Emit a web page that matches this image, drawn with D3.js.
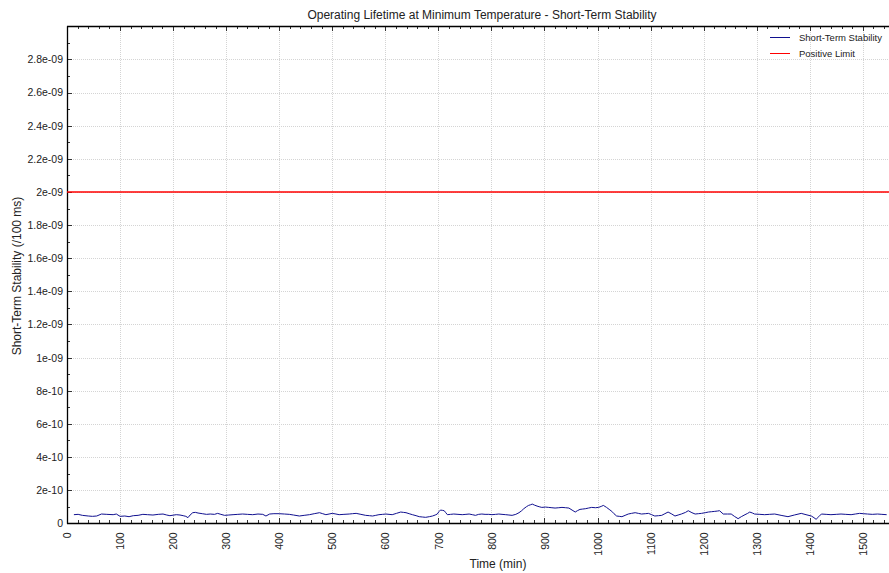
<!DOCTYPE html>
<html>
<head>
<meta charset="utf-8">
<script src="https://cdn.jsdelivr.net/npm/d3@7"></script>
<style>
  html, body { margin: 0; padding: 0; background: #fff; }
  svg { display: block; font-family: "Liberation Sans", Arial, sans-serif; }
</style>
</head>
<body>
<svg id="chart" width="889" height="573"></svg>
<script>
// ---------------- data ----------------
const chartTitle = "Operating Lifetime at Minimum Temperature - Short-Term Stability";
const xAxisTitle = "Time (min)";
const yAxisTitle = "Short-Term Stability (/100 ms)";
const seriesNames = ["Short-Term Stability", "Positive Limit"];

const xTicks = [0,100,200,300,400,500,600,700,800,900,1000,1100,1200,1300,1400,1500];
const yTicks = [0,2e-10,4e-10,6e-10,8e-10,1e-9,1.2e-9,1.4e-9,1.6e-9,1.8e-9,2e-9,2.2e-9,2.4e-9,2.6e-9,2.8e-9];
const yTickLabels = ["0","2e-10","4e-10","6e-10","8e-10","1e-09","1.2e-09","1.4e-09","1.6e-09","1.8e-09","2e-09","2.2e-09","2.4e-09","2.6e-09","2.8e-09"];

const timeMin = [13,21,29,40,48,56,65,75,87,93,100,109,117,125,134,143,152,162,172,181,188,194,206,213,219,224,228,232,237,242,247,255,263,270,278,284,290,297,305,313,322,331,340,350,360,369,375,382,390,400,410,419,427,438,447,457,466,476,482,488,494,500,507,513,522,532,538,545,554,563,570,576,582,588,595,601,607,613,621,629,634,639,645,651,658,664,670,676,683,689,694,698,701,704,708,711,714,717,723,729,737,745,752,758,764,770,776,782,788,795,801,808,814,820,827,833,839,846,852,857,861,866,870,874,877,881,886,890,895,902,908,914,920,927,933,940,946,952,958,962,967,972,977,983,989,996,1002,1007,1011,1014,1017,1022,1027,1031,1036,1041,1046,1052,1058,1064,1071,1077,1083,1090,1096,1102,1108,1115,1121,1127,1133,1140,1146,1152,1158,1166,1171,1178,1184,1190,1196,1203,1209,1215,1221,1226,1230,1237,1245,1252,1258,1265,1271,1278,1283,1287,1292,1296,1306,1315,1324,1334,1346,1359,1371,1384,1393,1403,1408,1412,1417,1422,1431,1440,1450,1459,1468,1478,1486,1494,1501,1509,1518,1528,1536,1545];
// short-term stability, in units of 1e-11
const stabilityE11 = [5.2,5.4,4.8,4.4,4.2,4.4,5.6,5.4,5.2,5.6,4.2,4.4,4.0,4.6,4.8,5.4,5.2,5.0,5.4,5.6,5.0,4.6,5.2,5.0,4.6,4.2,3.4,5.0,6.4,6.6,6.2,5.8,5.4,5.6,5.4,6.0,5.4,4.8,5.0,5.2,5.4,5.6,5.4,5.2,5.6,5.4,4.4,5.6,5.8,5.8,5.6,5.4,5.0,4.4,4.8,5.2,5.8,6.4,5.8,5.2,5.6,6.0,5.6,5.2,5.4,5.6,5.8,6.0,5.4,4.8,4.6,4.4,4.8,5.2,5.4,5.6,5.4,5.2,6.0,6.8,6.6,6.4,5.8,5.2,4.6,4.0,3.8,3.6,4.0,4.4,5.0,5.6,7.0,8.0,7.8,7.6,6.4,5.2,5.4,5.6,5.4,5.2,5.4,5.6,5.2,4.8,5.4,5.6,5.4,5.4,5.2,5.4,5.6,5.4,5.2,5.0,4.8,5.4,6.4,7.6,8.8,10.0,10.8,11.2,11.6,11.0,10.4,10.0,9.6,9.8,9.6,9.4,9.2,9.4,9.6,9.4,9.2,8.0,6.8,7.6,8.4,8.6,8.8,9.2,9.6,9.4,9.6,10.2,10.8,10.2,9.6,8.4,7.2,5.8,4.4,4.2,4.0,4.8,5.6,6.0,6.4,6.0,5.6,5.8,6.0,5.2,4.4,4.6,4.8,5.8,6.8,5.6,4.4,5.0,5.6,6.6,7.6,6.4,5.6,5.8,6.0,6.4,6.8,7.0,7.2,7.4,7.6,5.6,5.6,5.6,4.2,2.8,4.0,5.2,6.0,6.8,6.2,5.6,5.4,5.2,5.4,5.6,4.8,4.0,5.0,6.0,5.2,4.4,3.4,2.4,4.0,5.6,5.4,5.2,5.4,5.6,5.4,5.2,5.6,6.0,5.8,5.6,5.4,5.6,5.4,5.2];
const positiveLimit = 2e-9;
const xDomain = [0, 1550];
const yDomain = [0, 3e-9];

// ---------------- layout ----------------
const svg = d3.select("#chart");
const plotLeft = 67, plotRight = 889.3, plotTop = 26.3, plotBottom = 523.3;

const x = d3.scaleLinear().domain(xDomain).range([plotLeft, plotRight]);
const y = d3.scaleLinear().domain(yDomain).range([plotBottom, plotTop]);

const series = timeMin.map((t, i) => ({ t, v: stabilityE11[i] * 1e-11 }));

// grid
const grid = svg.append("g").attr("stroke", "#d4d4d4").attr("stroke-width", 1)
  .attr("stroke-dasharray", "1,1").attr("shape-rendering", "crispEdges");
grid.selectAll("line.v").data(xTicks.filter(d => d > 0)).join("line")
  .attr("x1", d => Math.round(x(d)) + 0.5).attr("x2", d => Math.round(x(d)) + 0.5)
  .attr("y1", plotTop).attr("y2", plotBottom);
grid.selectAll("line.h").data(yTicks.filter(d => d > 0)).join("line")
  .attr("x1", plotLeft).attr("x2", plotRight)
  .attr("y1", d => Math.round(y(d)) + 0.5).attr("y2", d => Math.round(y(d)) + 0.5);

// axes: ticks point inward
const minorX = d3.range(0, 1551, 20);
const minorY = d3.range(0, 30).map(i => i * 1e-10);

const yAxis = d3.axisLeft(y).tickValues(yTicks).tickSize(0).tickPadding(4)
  .tickFormat((d, i) => yTickLabels[i]);
const gy = svg.append("g").attr("transform", `translate(${plotLeft},0)`).call(yAxis);
gy.select(".domain").remove();
gy.selectAll("text").attr("font-size", "10.5px").attr("fill", "#222")
  .attr("font-family", "Liberation Sans, Arial, sans-serif");

const xAxis = d3.axisBottom(x).tickValues(xTicks).tickSize(0).tickFormat(d3.format("d"));
const gx = svg.append("g").attr("transform", `translate(0,${plotBottom})`).call(xAxis);
gx.select(".domain").remove();
gx.selectAll("text").attr("font-size", "10.5px").attr("fill", "#222")
  .attr("font-family", "Liberation Sans, Arial, sans-serif")
  .attr("transform", "rotate(-90)")
  .attr("text-anchor", "end").attr("x", -9).attr("y", 0).attr("dy", "0.35em");

// tick marks (inward)
const tk = svg.append("g").attr("stroke", "#333").attr("stroke-width", 1).attr("shape-rendering", "crispEdges");
tk.selectAll("line.ly").data(minorY).join("line")
  .attr("x1", plotLeft).attr("x2", (d, i) => plotLeft + (i % 2 === 0 ? 5 : 3))
  .attr("y1", d => Math.round(y(d)) + 0.5).attr("y2", d => Math.round(y(d)) + 0.5);
tk.selectAll("line.bx").data(minorX).join("line")
  .attr("x1", d => Math.round(x(d)) + 0.5).attr("x2", d => Math.round(x(d)) + 0.5)
  .attr("y1", plotBottom).attr("y2", d => plotBottom - (d % 100 === 0 ? 5 : 3));
tk.selectAll("line.tx").data(minorX).join("line")
  .attr("x1", d => Math.round(x(d)) + 0.5).attr("x2", d => Math.round(x(d)) + 0.5)
  .attr("y1", plotTop).attr("y2", d => plotTop + (d % 100 === 0 ? 5 : 3));

// frame lines
svg.append("line").attr("x1", plotLeft + 0.5).attr("x2", plotLeft + 0.5).attr("y1", plotTop).attr("y2", plotBottom + 0.5)
  .attr("stroke", "#000").attr("stroke-width", 1.3);
svg.append("line").attr("x1", plotLeft).attr("x2", plotRight).attr("y1", Math.round(plotTop) + 0.5).attr("y2", Math.round(plotTop) + 0.5)
  .attr("stroke", "#000").attr("stroke-width", 1.3);
svg.append("line").attr("x1", plotLeft).attr("x2", plotRight).attr("y1", Math.round(plotBottom) + 0.5).attr("y2", Math.round(plotBottom) + 0.5)
  .attr("stroke", "#000").attr("stroke-width", 1.3);

// positive limit line
svg.append("line")
  .attr("x1", x(xDomain[0])).attr("x2", x(xDomain[1]))
  .attr("y1", y(positiveLimit)).attr("y2", y(positiveLimit))
  .attr("stroke", "#ff0000").attr("stroke-width", 1.5);

// stability line
const line = d3.line().x(d => x(d.t)).y(d => y(d.v));
svg.append("path").datum(series).attr("d", line)
  .attr("fill", "none").attr("stroke", "#10108f").attr("stroke-width", 1);

// title & axis titles
svg.append("text").attr("x", 482).attr("y", 19).attr("text-anchor", "middle")
  .attr("font-size", "12px").attr("fill", "#222").text(chartTitle);
svg.append("text").attr("x", 498).attr("y", 568).attr("text-anchor", "middle")
  .attr("font-size", "12px").attr("fill", "#222").text(xAxisTitle);
svg.append("text").attr("transform", "translate(21,276) rotate(-90)").attr("text-anchor", "middle")
  .attr("font-size", "12px").attr("fill", "#222").text(yAxisTitle);

// legend
const legendColors = ["#10108f", "#ff0000"];
const lg = svg.append("g");
seriesNames.forEach((name, i) => {
  const ly = 37.5 + i * 16;
  lg.append("line").attr("x1", 770).attr("x2", 790).attr("y1", ly).attr("y2", ly)
    .attr("stroke", legendColors[i]).attr("stroke-width", 1);
  lg.append("text").attr("x", 799).attr("y", ly).attr("dy", "0.35em")
    .attr("font-size", "9.5px").attr("fill", "#222").text(name);
});
</script>
</body>
</html>
